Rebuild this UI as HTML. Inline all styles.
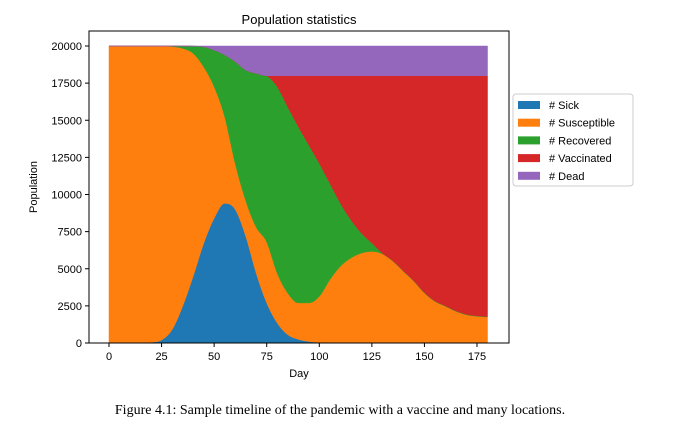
<!DOCTYPE html>
<html><head><meta charset="utf-8"><style>
body{margin:0;background:#fff;width:680px;height:430px;overflow:hidden;font-family:"Liberation Sans",sans-serif}
</style></head><body>
<svg id="chart" width="680" height="430" xmlns="http://www.w3.org/2000/svg">
<text x="299" y="24" font-size="13" text-anchor="middle">Population statistics</text>
<g id="areas"></g>
<rect x="89" y="31" width="420" height="312" fill="none" stroke="#000" stroke-width="1"/>
<g id="xticks"></g>
<g id="yticks"></g>
<text x="299" y="377" font-size="11" text-anchor="middle">Day</text>
<text x="37" y="187" font-size="11" text-anchor="middle" transform="rotate(-90 37 187)">Population</text>
<g id="legend"></g>
<text x="340" y="414" font-size="14" font-family="Liberation Serif, serif" text-anchor="middle">Figure 4.1: Sample timeline of the pandemic with a vaccine and many locations.</text>
</svg>
<script>
const days=[0,5,10,15,20,25,30,35,40,45,50,55,60,65,70,75,80,85,90,95,100,105,110,115,120,125,130,135,140,145,150,155,160,165,170,175,180];
const sick=[0,0,0,0,50,200,900,2470,4480,6700,8400,9400,9000,7200,4700,2700,1350,560,250,100,50,30,20,10,10,0,0,0,0,0,0,0,0,0,0,0,0];
const susceptible=[20000,20000,20000,20000,19950,19800,19060,17370,15020,11900,8860,5850,3100,2400,3100,4100,3350,2800,2450,2600,3090,4230,5140,5710,6040,6170,6000,5500,4820,4150,3360,2800,2470,2130,1900,1800,1750];
const recovered=[0,0,0,0,0,0,40,160,490,1350,2470,4150,6850,8780,10360,11200,12560,12540,11870,10640,8960,6500,4260,2580,1350,560,50,30,30,30,30,30,30,30,30,30,30];
const vaccinated=[0,0,0,0,0,0,0,0,0,0,0,0,0,0,0,0,740,2100,3430,4660,5900,7240,8580,9700,10600,11270,11950,12470,13150,13820,14610,15170,15500,15840,16070,16170,16220];
const dead=[0,0,0,0,0,0,0,0,10,50,270,600,1050,1620,1840,2000,2000,2000,2000,2000,2000,2000,2000,2000,2000,2000,2000,2000,2000,2000,2000,2000,2000,2000,2000,2000,2000];
const seriesNames=["# Sick","# Susceptible","# Recovered","# Vaccinated","# Dead"];
const xTicks=[0,25,50,75,100,125,150,175];
const yTicks=[0,2500,5000,7500,10000,12500,15000,17500,20000];
const colors=["#1f77b4","#ff7f0e","#2ca02c","#d62728","#9467bd"];
const NS="http://www.w3.org/2000/svg";
const X=d=>109+d*(368/175);
const Y=v=>343-v*(297/20000);
const series=[sick,susceptible,recovered,vaccinated,dead];
function mono(xs,ys){
  const n=xs.length,m=[],d=[];
  for(let i=0;i<n-1;i++)d.push((ys[i+1]-ys[i])/(xs[i+1]-xs[i]));
  for(let i=0;i<n;i++){
    if(i==0)m.push(d[0]);else if(i==n-1)m.push(d[n-2]);
    else m.push(d[i-1]*d[i]<=0?0:(d[i-1]+d[i])/2);
  }
  for(let i=0;i<n-1;i++){
    if(d[i]==0){m[i]=0;m[i+1]=0;continue;}
    const a=m[i]/d[i],b=m[i+1]/d[i],s=a*a+b*b;
    if(s>9){const t=3/Math.sqrt(s);m[i]=t*a*d[i];m[i+1]=t*b*d[i];}
  }
  let p="";
  for(let i=0;i<n-1;i++){
    const h=(xs[i+1]-xs[i])/3;
    p+=" C"+(xs[i]+h).toFixed(2)+","+(ys[i]+m[i]*h).toFixed(2)+" "+(xs[i+1]-h).toFixed(2)+","+(ys[i+1]-m[i+1]*h).toFixed(2)+" "+xs[i+1].toFixed(2)+","+ys[i+1].toFixed(2);
  }
  return p;
}
const areas=document.getElementById('areas');
let base=days.map(()=>0);
series.forEach((s,k)=>{
  const top=base.map((b,i)=>b+s[i]);
  const xs=days.map(X);
  const ty=top.map(Y),by=base.map(Y);
  const rxs=xs.slice().reverse(),rby=by.slice().reverse();
  const d="M"+xs[0]+","+ty[0]+mono(xs,ty)+" L"+rxs[0]+","+rby[0]+mono(rxs,rby)+" Z";
  const p=document.createElementNS(NS,'path');
  p.setAttribute('d',d);
  p.setAttribute('fill',colors[k]);
  p.setAttribute('stroke',colors[k]);
  p.setAttribute('stroke-width','0.5');
  
  
  areas.appendChild(p);
  base=top;
});
const xg=document.getElementById('xticks');
xTicks.forEach(t=>{
  const l=document.createElementNS(NS,'line');
  l.setAttribute('x1',X(t));l.setAttribute('x2',X(t));l.setAttribute('y1',343);l.setAttribute('y2',347);l.setAttribute('stroke','#000');
  
  
  xg.appendChild(l);
  const tx=document.createElementNS(NS,'text');
  tx.setAttribute('x',X(t));tx.setAttribute('y',360);tx.setAttribute('font-size','11');tx.setAttribute('text-anchor','middle');
  tx.textContent=t;
  
  
  xg.appendChild(tx);
});
const yg=document.getElementById('yticks');
yTicks.forEach(t=>{
  const l=document.createElementNS(NS,'line');
  l.setAttribute('x1',85);l.setAttribute('x2',89);l.setAttribute('y1',Y(t));l.setAttribute('y2',Y(t));l.setAttribute('stroke','#000');
  
  
  yg.appendChild(l);
  const tx=document.createElementNS(NS,'text');
  tx.setAttribute('x',82);tx.setAttribute('y',Y(t)+4);tx.setAttribute('font-size','11');tx.setAttribute('text-anchor','end');
  tx.textContent=t;
  
  
  yg.appendChild(tx);
});
const lg=document.getElementById('legend');
const box=document.createElementNS(NS,'rect');
box.setAttribute('x',513);box.setAttribute('y',94);box.setAttribute('width',120);box.setAttribute('height',92);box.setAttribute('rx',3);
box.setAttribute('fill','#fff');box.setAttribute('stroke','#ccc');


lg.appendChild(box);
seriesNames.forEach((n,k)=>{
  const y=105+k*17.7;
  const r=document.createElementNS(NS,'rect');
  r.setAttribute('x',518);r.setAttribute('y',y-4);r.setAttribute('width',22);r.setAttribute('height',8);r.setAttribute('fill',colors[k]);
  
  
  lg.appendChild(r);
  const t=document.createElementNS(NS,'text');
  t.setAttribute('x',549);t.setAttribute('y',y+4);t.setAttribute('font-size','11');
  t.textContent=n;
  
  
  lg.appendChild(t);
});
</script>
</body></html>
